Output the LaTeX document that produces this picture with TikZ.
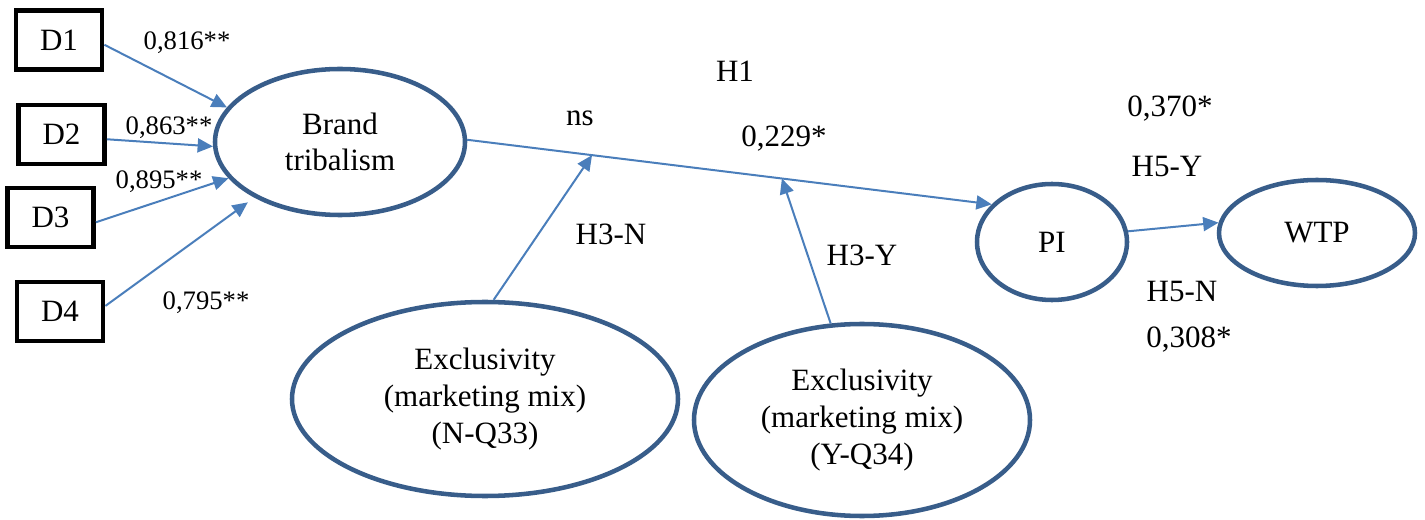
\documentclass[tikz,border=0pt]{standalone}
\usepackage{fontspec}
\setmainfont{Liberation Serif}
\usetikzlibrary{shapes.geometric,arrows.meta,calc}

\definecolor{ringblue}{HTML}{385D8A}
\definecolor{linkblue}{HTML}{4A7EBB}

\begin{document}
\begin{tikzpicture}[x=0.75pt,y=-0.75pt,
  every node/.style={font=\fontsize{23.25}{27.5}\selectfont},
  itembox/.style={draw=black,line width=3.6pt,minimum width=64.5pt,
    minimum height=44.25pt,inner sep=0pt},
  construct/.style={ellipse,draw=ringblue,line width=3.4pt,inner sep=0pt,align=center},
  link/.style={draw=linkblue,line width=1.5pt,-{Triangle[length=11.5pt,width=10.5pt]}},
  coef/.style={font=\fontsize{20}{24}\selectfont,anchor=base,inner sep=0pt},
  tag/.style={anchor=base,inner sep=0pt}]

\useasboundingbox (0,0) rectangle (1425,520);

% indicator boxes
\node[itembox] (d1) at (59,40) {D1};
\node[itembox] (d2) at (61.5,134.5) {D2};
\node[itembox] (d3) at (50.5,217.5) {D3};
\node[itembox] (d4) at (60,311.5) {D4};

% latent constructs
\node[construct,minimum width=187.5pt,minimum height=109.5pt] (bt) at (340,142) {Brand\\tribalism};
\node[construct,minimum width=112.5pt,minimum height=87pt] (pi) at (1052,242) {PI};
\node[construct,minimum width=147pt,minimum height=79.5pt] (wtp) at (1317,233) {WTP};
\node[construct,minimum width=289.5pt,minimum height=145.5pt] (nq) at (485,399)
  {Exclusivity\\(marketing mix)\\(N-Q33)};
\node[construct,minimum width=252pt,minimum height=144pt] (yq) at (862,420)
  {Exclusivity\\(marketing mix)\\(Y-Q34)};

% measurement paths
\draw[link] (d1.-6) -- (bt.163);
\draw[link] (d2.-6) -- (bt.182);
\draw[link] (d3.-6) -- (bt.198);
\draw[link, shorten >=6pt] (d4.7) -- (bt.213);

% structural paths
\draw[link] (bt.1) -- (pi.148);
\draw[link] (pi.8) -- (wtp.174);

% moderating paths onto the main path
\coordinate (hn) at ($(bt.1)!0.238!(pi.148)$);
\coordinate (hy) at ($(bt.1)!0.6!(pi.148)$);
\draw[link] (nq.85) -- (hn);
\draw[link] (yq.108) -- (hy);

% loadings
\node[coef] (l1) at (187,50) {0,816**};
\node[coef] (l2) at (169,135) {0,863**};
\node[coef] (l3) at (159,189) {0,895**};
\node[coef] (l4) at (206,310) {0,795**};

% hypothesis labels and estimates
\node[tag] (h1) at (735,82) {H1};
\node[tag] (ns) at (580,126) {ns};
\node[tag] (e1) at (784,147) {0,229*};
\node[tag] (h3n) at (611,245) {H3-N};
\node[tag] (h3y) at (862,266) {H3-Y};
\node[tag] (e5y) at (1170,117) {0,370*};
\node[tag] (h5y) at (1167,177) {H5-Y};
\node[tag] (h5n) at (1182,302) {H5-N};
\node[tag] (e5n) at (1189,348) {0,308*};
\end{tikzpicture}
\end{document}
